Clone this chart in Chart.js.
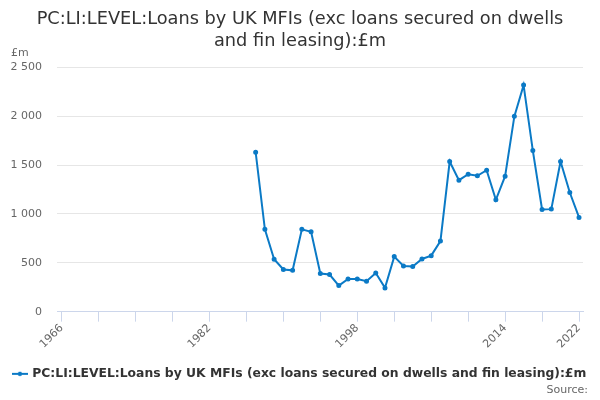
<!DOCTYPE html>
<html>
<head>
<meta charset="utf-8">
<script src="https://cdn.jsdelivr.net/npm/chart.js@4/dist/chart.umd.min.js"></script>
<style>
html,body{margin:0;padding:0;background:#fff;}
#wrap{width:600px;height:400px;position:relative;}
</style>
</head>
<body>
<div id="wrap"><canvas id="c" width="600" height="400"></canvas></div>
<script>
const titleLines = ["PC:LI:LEVEL:Loans by UK MFIs (exc loans secured on dwells", "and fin leasing):£m"];
const seriesName = "PC:LI:LEVEL:Loans by UK MFIs (exc loans secured on dwells and fin leasing):£m";
const years = [1987,1988,1989,1990,1991,1992,1993,1994,1995,1996,1997,1998,1999,2000,2001,2002,2003,2004,2005,2006,2007,2008,2009,2010,2011,2012,2013,2014,2015,2016,2017,2018,2019,2020,2021,2022];
const values = [1631,842,536,431,423,842,818,390,380,267,335,335,311,396,243,563,467,461,539,573,722,1536,1345,1406,1390,1447,1145,1386,1998,2318,1648,1046,1049,1536,1219,964];
const xTickYears = [1966,1970,1974,1978,1982,1986,1990,1994,1998,2002,2006,2010,2014,2018,2022];
const xLabelYears = [1966,1982,1998,2014,2022];
const yTicks = [0,500,1000,1500,2000,2500];
const unitLabel = "£m";
const sourceLabel = "Source:";

const lineColor = '#0b7ac6';
const font = 'DejaVu Sans';

// legend symbol
const sym = document.createElement('canvas');
sym.width = 16; sym.height = 6;
(function(){
  const g = sym.getContext('2d');
  g.strokeStyle = lineColor; g.lineWidth = 2;
  g.beginPath(); g.moveTo(0,3); g.lineTo(16,3); g.stroke();
  g.fillStyle = lineColor;
  g.beginPath(); g.arc(8,3,2.2,0,Math.PI*2); g.fill();
})();

const extras = {
  id: 'extras',
  afterLayout(chart) {
    // centre title and legend across the full canvas width
    [chart.titleBlock, chart.legend].forEach(b => {
      if (b) { b.left = 0; b.right = chart.width; b.width = chart.width; }
    });
  },
  afterDraw(chart) {
    const ctx = chart.ctx;
    ctx.save();
    ctx.font = '11px "' + font + '"';
    ctx.fillStyle = '#666';
    ctx.textBaseline = 'middle';
    ctx.textAlign = 'left';
    ctx.fillText(unitLabel, 11, 53);
    ctx.textAlign = 'right';
    ctx.fillText(sourceLabel, 588, 390);
    ctx.restore();
  }
};

const fmt = v => String(v).replace(/\B(?=(\d{3})+(?!\d))/g, ' ');

new Chart(document.getElementById('c'), {
  type: 'line',
  data: {
    datasets: [{
      label: seriesName,
      data: years.map((y, i) => ({x: y, y: values[i]})),
      borderColor: lineColor,
      backgroundColor: lineColor,
      borderWidth: 2,
      pointRadius: 1.5,
      pointHoverRadius: 2,
      tension: 0
    }]
  },
  options: {
    responsive: false,
    animation: false,
    layout: {padding: {left: 0, right: 17, top: 0, bottom: 10}},
    plugins: {
      title: {
        display: true,
        text: titleLines,
        color: '#333',
        font: {family: font, size: 17.75, weight: 'normal', lineHeight: 1.22},
        padding: {top: 9, bottom: 15}
      },
      legend: {
        position: 'bottom',
        labels: {
          color: '#333',
          font: {family: font, size: 12.35, weight: 'bold'},
          usePointStyle: true,
          boxWidth: 16,
          boxHeight: 6,
          padding: 4,
          generateLabels(chart) {
            const items = Chart.defaults.plugins.legend.labels.generateLabels(chart);
            items.forEach(it => { it.pointStyle = sym; });
            return items;
          }
        }
      },
      tooltip: {enabled: false}
    },
    scales: {
      x: {
        type: 'linear',
        min: 1965.5,
        max: 2022.43,
        afterBuildTicks(scale) { scale.ticks = xTickYears.map(v => ({value: v})); },
        afterFit(scale) { scale.height = 52; },
        grid: {drawOnChartArea: false, drawTicks: true, tickLength: 10, color: '#ccd6eb'},
        border: {display: true, color: '#ccd6eb', width: 1},
        ticks: {
          autoSkip: false,
          minRotation: 45,
          maxRotation: 45,
          padding: 0,
          color: '#666',
          font: {family: font, size: 11},
          callback: v => xLabelYears.includes(v) ? String(v) : ''
        }
      },
      y: {
        min: 0,
        max: 2500,
        afterBuildTicks(scale) { scale.ticks = yTicks.map(v => ({value: v})); },
        afterFit(scale) { scale.width = 57; },
        grid: {color: '#e6e6e6', drawTicks: false},
        border: {display: false},
        ticks: {
          padding: 15,
          color: '#666',
          font: {family: font, size: 11},
          callback: v => fmt(v)
        }
      }
    }
  },
  plugins: [extras]
});
</script>
</body>
</html>
